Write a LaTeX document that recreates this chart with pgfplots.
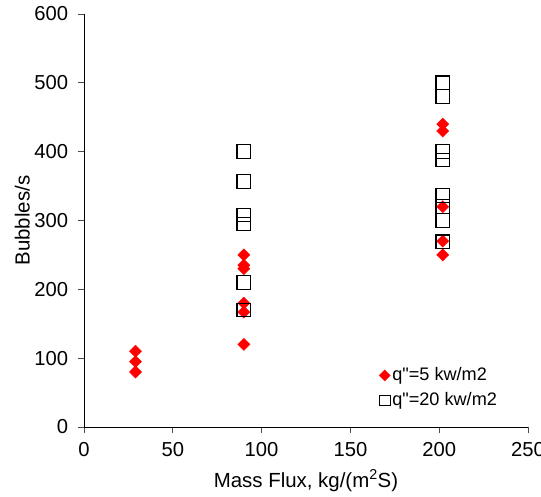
\documentclass[border=0pt]{standalone}
\usepackage{pgfplots}
\pgfplotsset{compat=1.18}
\usepackage{fontspec}
\setmainfont{Liberation Sans}
\begin{document}
\fontsize{20}{23}\selectfont
\begin{tikzpicture}
\begin{axis}[
  scale only axis,
  width=444bp, height=413bp,
  xmin=0, xmax=250, ymin=0, ymax=600,
  xtick={0,50,...,250}, ytick={0,100,...,600},
  axis x line*=bottom, axis y line*=left,
  axis line style={line width=0.9bp, -},
  tick align=outside, major tick length=6bp,
  tick style={line width=0.8bp, black!70},
  /pgf/number format/assume math mode=true,
  ticklabel style={font=\fontsize{20.3}{23}\selectfont},
  xticklabel style={yshift=-3bp},
  yticklabel style={xshift=-3bp},
  label style={font=\fontsize{20.5}{23}\selectfont},
  xlabel={Mass Flux, kg/(m\textsuperscript{2}S)},
  ylabel={Bubbles/s},
  xlabel style={yshift=1bp},
  ylabel style={yshift=-9bp},
  legend style={draw=none, fill=none, at={(rel axis cs:0.662,0.152)}, anchor=north west,
    font=\fontsize{18.2}{21}\selectfont, row sep=5bp, inner sep=1bp},
  legend cell align=left,
  clip=false,
]
\coordinate (bl) at (rel axis cs:0,0);
\coordinate (tr) at (rel axis cs:1,1);
\addplot[only marks, mark=diamond*, mark size=6.2bp, mark options={xscale=1.33, fill=red, draw=red, line width=0.2bp},
  legend image code/.code={\draw[draw=none] plot[mark=diamond*, mark size=5.6bp, mark options={xscale=1.33, fill=red, draw=red, line width=0.2bp}] coordinates {(0.3cm,0cm)};}]
  coordinates {(29,110) (29,95) (29,80)
  (90,250) (90,235) (90,230) (90,180) (90,167) (90,120)
  (202,440) (202,430) (202,320) (202,270) (202,250)};
\addlegendentry{q\textquotedbl=5 kw/m2}
\addplot[only marks, mark=square, mark size=6.8bp, mark options={draw=black, line width=1.1bp, fill=none},
  legend image code/.code={\draw[draw=none] plot[mark=square, mark size=5.3bp, mark options={draw=black, line width=1bp, fill=none}] coordinates {(0.3cm,0cm)};}]
  coordinates {(90,400) (90,400) (90,357) (90,308) (90,295) (90,210) (90,170)
  (202,500) (202,480) (202,400) (202,388) (202,336) (202,320) (202,300) (202,269)};
\addlegendentry{q\textquotedbl=20 kw/m2}
\end{axis}
\pgfresetboundingbox
\path[use as bounding box] ([shift={(-84bp,-70bp)}]bl) rectangle ([shift={(13bp,14bp)}]tr);
\end{tikzpicture}
\end{document}
